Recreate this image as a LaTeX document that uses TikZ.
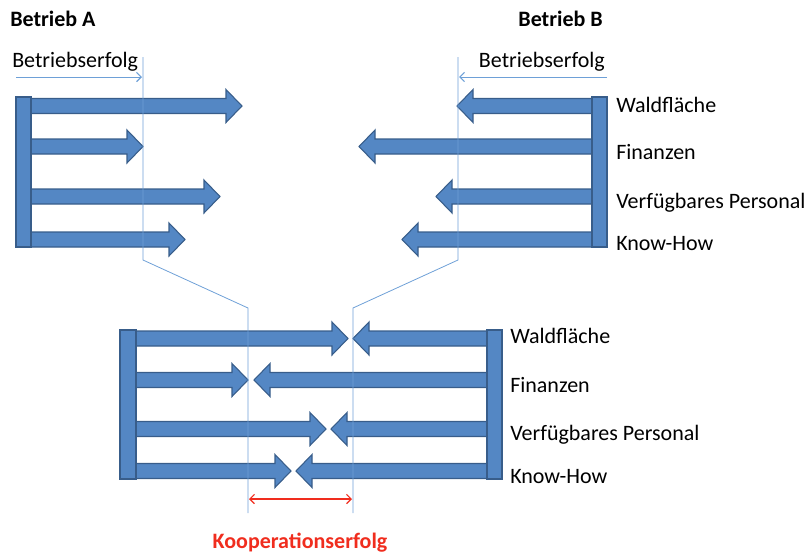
\documentclass[tikz,border=0pt]{standalone}
\usepackage{fontspec}
\setmainfont{Carlito}
\usetikzlibrary{arrows.meta}
\definecolor{blockblue}{RGB}{84,135,196}
\definecolor{blockedge}{RGB}{56,93,138}
\definecolor{thinblue}{RGB}{110,160,215}
\definecolor{koopred}{RGB}{240,45,30}
% block arrows: #1 start x, #2 tip x, #3 y of the shaft
\newcommand{\blockright}[3]{%
  \filldraw[blockarrow] (#1,#3-7.5) -- (#2-16,#3-7.5) -- (#2-16,#3-16.5) -- (#2,#3)
    -- (#2-16,#3+16.5) -- (#2-16,#3+7.5) -- (#1,#3+7.5) -- cycle;}
\newcommand{\blockleft}[3]{%
  \filldraw[blockarrow] (#1,#3-7.5) -- (#2+16,#3-7.5) -- (#2+16,#3-16.5) -- (#2,#3)
    -- (#2+16,#3+16.5) -- (#2+16,#3+7.5) -- (#1,#3+7.5) -- cycle;}
\tikzset{
  blockarrow/.style={fill=blockblue,draw=blockedge,line width=0.8pt},
  label/.style={inner sep=0pt,anchor=base west,font=\fontsize{16.5}{20}\selectfont},
  head/.style={inner sep=0pt,font=\fontsize{16.5}{20}\selectfont\bfseries},
  guide/.style={thinblue,line width=0.6pt},
  barb/.tip={Straight Barb[length=3.5pt,width=7pt,line width=0.9pt]}
}
\begin{document}
\begin{tikzpicture}[x=0.75pt,y=-0.75pt]
\useasboundingbox (0,0) rectangle (810,554);
% Betrieb A
\blockright{31}{242}{106}
\blockright{31}{143}{146.5}
\blockright{31}{220}{196.5}
\blockright{31}{185}{239.5}
\filldraw[blockarrow] (16,97) rectangle (31,247);
% Betrieb B
\blockleft{592}{457}{106}
\blockleft{592}{359}{146.5}
\blockleft{592}{436}{196.5}
\blockleft{592}{402}{239.5}
\filldraw[blockarrow] (592,97) rectangle (607,247);
% Kooperation
\blockright{136}{348}{338.5}
\blockright{136}{248}{380}
\blockright{136}{326}{429}
\blockright{136}{291}{471}
\blockleft{487}{353}{338.5}
\blockleft{487}{254}{380}
\blockleft{487}{331}{429}
\blockleft{487}{296}{471}
\filldraw[blockarrow] (120,330) rectangle (136,479);
\filldraw[blockarrow] (487,330) rectangle (502,479);
% guide lines
\draw[guide] (143,57) -- (143,260) -- (248,308) -- (248,513);
\draw[guide] (458,57) -- (458,260) -- (353,308) -- (353,513);
\draw[guide,-barb] (16,77) -- (142,77);
\draw[guide,-barb] (607,77) -- (459,77);
\draw[koopred,line width=1.2pt,barb-barb] (249,499) -- (352,499);
% texts
\node[head,anchor=base west] (betrA) at (10,26) {Betrieb A};
\node[head,anchor=base east] (betrB) at (603,26) {Betrieb B};
\node[label] (erfolgA) at (12,67) {Betriebserfolg};
\node[label,anchor=base east] (erfolgB) at (605,67) {Betriebserfolg};
\node[label] (waldB) at (616,112) {Waldfläche};
\node[label] (finB) at (616,159) {Finanzen};
\node[label] (persB) at (616,208) {Verfügbares Personal};
\node[label] (knowB) at (616,250) {Know-How};
\node[label] (waldK) at (510,343) {Waldfläche};
\node[label] (finK) at (510,392) {Finanzen};
\node[label] (persK) at (510,440) {Verfügbares Personal};
\node[label] (knowK) at (510,483) {Know-How};
\node[head,anchor=base,text=koopred] (koop) at (300,548) {Kooperationserfolg};
\end{tikzpicture}
\end{document}
